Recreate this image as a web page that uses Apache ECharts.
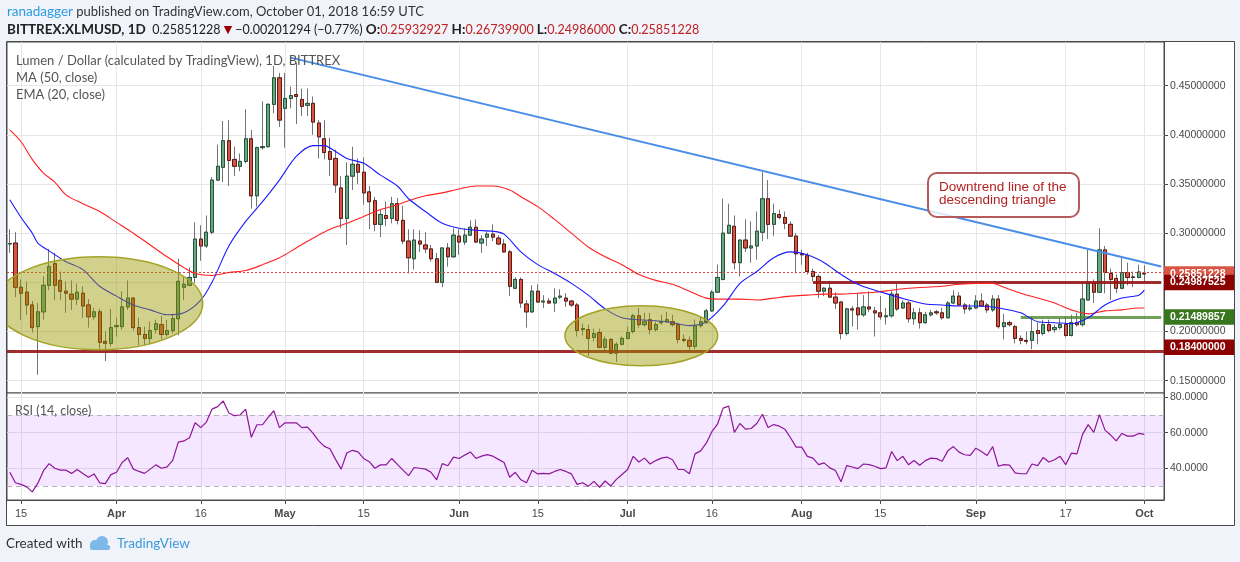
<!DOCTYPE html>
<html>
<head>
<meta charset="utf-8">
<script src="https://cdn.jsdelivr.net/npm/echarts@6/dist/echarts.min.js"></script>
<style>
  html, body { margin: 0; padding: 0; background: #f0f3fa; }
  #chart { width: 1240px; height: 562px; }
</style>
</head>
<body>
<div id="chart"></div>
<script>
// daily candles from 2018-03-13, each row [open, high, low, close]
var startDay = '2018-03-13'
var ohlc = [
  [0.2890, 0.304, 0.280, 0.2895], [0.290, 0.301, 0.235, 0.245], [0.245, 0.253, 0.212, 0.239], [0.240, 0.251, 0.217, 0.227],
  [0.227, 0.231, 0.199, 0.204], [0.205, 0.229, 0.156, 0.220], [0.220, 0.256, 0.212, 0.247], [0.247, 0.284, 0.242, 0.266],
  [0.269, 0.280, 0.232, 0.247], [0.252, 0.261, 0.232, 0.241], [0.241, 0.251, 0.219, 0.239], [0.238, 0.252, 0.222, 0.233],
  [0.233, 0.249, 0.227, 0.240], [0.239, 0.246, 0.214, 0.226], [0.227, 0.233, 0.204, 0.215], [0.215, 0.224, 0.212, 0.220],
  [0.220, 0.223, 0.179, 0.189], [0.190, 0.200, 0.170, 0.188], [0.188, 0.223, 0.185, 0.204], [0.205, 0.214, 0.195, 0.206],
  [0.205, 0.241, 0.202, 0.225], [0.225, 0.252, 0.222, 0.234], [0.234, 0.235, 0.201, 0.204], [0.204, 0.214, 0.186, 0.197],
  [0.197, 0.205, 0.186, 0.193], [0.193, 0.210, 0.188, 0.201], [0.202, 0.212, 0.198, 0.208], [0.207, 0.216, 0.192, 0.197],
  [0.197, 0.212, 0.195, 0.201], [0.201, 0.218, 0.198, 0.213], [0.213, 0.274, 0.196, 0.251], [0.245, 0.256, 0.232, 0.248],
  [0.247, 0.265, 0.246, 0.255], [0.255, 0.311, 0.249, 0.294], [0.294, 0.308, 0.272, 0.287], [0.287, 0.318, 0.285, 0.301],
  [0.301, 0.357, 0.299, 0.354], [0.354, 0.390, 0.353, 0.368], [0.367, 0.414, 0.352, 0.394], [0.394, 0.415, 0.348, 0.374],
  [0.375, 0.388, 0.358, 0.368], [0.368, 0.381, 0.363, 0.373], [0.373, 0.426, 0.371, 0.396], [0.396, 0.405, 0.325, 0.338],
  [0.338, 0.388, 0.327, 0.387], [0.387, 0.434, 0.385, 0.388], [0.388, 0.432, 0.387, 0.431], [0.431, 0.470, 0.422, 0.458],
  [0.458, 0.463, 0.408, 0.415], [0.427, 0.463, 0.387, 0.437], [0.437, 0.449, 0.427, 0.440], [0.441, 0.473, 0.411, 0.439],
  [0.436, 0.447, 0.419, 0.429], [0.430, 0.447, 0.419, 0.432], [0.432, 0.439, 0.400, 0.413], [0.412, 0.415, 0.376, 0.398],
  [0.396, 0.415, 0.375, 0.382], [0.383, 0.397, 0.358, 0.375], [0.376, 0.385, 0.341, 0.349], [0.346, 0.358, 0.305, 0.315],
  [0.315, 0.372, 0.288, 0.358], [0.358, 0.388, 0.344, 0.370], [0.370, 0.376, 0.350, 0.362], [0.362, 0.377, 0.329, 0.341],
  [0.342, 0.348, 0.304, 0.332], [0.333, 0.337, 0.302, 0.309], [0.309, 0.324, 0.296, 0.319], [0.318, 0.332, 0.307, 0.315],
  [0.315, 0.337, 0.310, 0.330], [0.330, 0.336, 0.309, 0.313], [0.313, 0.328, 0.289, 0.292], [0.292, 0.304, 0.259, 0.275],
  [0.274, 0.304, 0.263, 0.293], [0.292, 0.303, 0.281, 0.289], [0.288, 0.301, 0.280, 0.284], [0.284, 0.288, 0.271, 0.274],
  [0.274, 0.280, 0.250, 0.250], [0.250, 0.285, 0.245, 0.285], [0.285, 0.290, 0.266, 0.276], [0.276, 0.305, 0.275, 0.298],
  [0.297, 0.304, 0.278, 0.291], [0.291, 0.305, 0.288, 0.298], [0.298, 0.313, 0.297, 0.306], [0.306, 0.314, 0.290, 0.291],
  [0.290, 0.298, 0.280, 0.294], [0.296, 0.302, 0.287, 0.299], [0.299, 0.309, 0.292, 0.296], [0.295, 0.298, 0.288, 0.289],
  [0.289, 0.294, 0.280, 0.281], [0.281, 0.283, 0.236, 0.246], [0.244, 0.255, 0.243, 0.253], [0.253, 0.255, 0.224, 0.229],
  [0.228, 0.232, 0.204, 0.220], [0.220, 0.247, 0.219, 0.241], [0.241, 0.248, 0.229, 0.230], [0.230, 0.237, 0.224, 0.231],
  [0.231, 0.234, 0.228, 0.229], [0.229, 0.244, 0.220, 0.234], [0.235, 0.243, 0.233, 0.236], [0.234, 0.239, 0.225, 0.231],
  [0.231, 0.232, 0.225, 0.227], [0.227, 0.229, 0.195, 0.201], [0.202, 0.208, 0.196, 0.203], [0.202, 0.207, 0.175, 0.193],
  [0.194, 0.203, 0.190, 0.198], [0.199, 0.203, 0.183, 0.184], [0.184, 0.195, 0.180, 0.192], [0.192, 0.193, 0.177, 0.178],
  [0.178, 0.189, 0.169, 0.187], [0.187, 0.195, 0.186, 0.193], [0.193, 0.205, 0.192, 0.199], [0.200, 0.218, 0.198, 0.216],
  [0.216, 0.224, 0.204, 0.207], [0.207, 0.219, 0.205, 0.210], [0.212, 0.219, 0.197, 0.202], [0.202, 0.210, 0.200, 0.207],
  [0.209, 0.217, 0.207, 0.210], [0.210, 0.220, 0.209, 0.212], [0.210, 0.217, 0.205, 0.207], [0.207, 0.209, 0.188, 0.192],
  [0.192, 0.197, 0.189, 0.191], [0.191, 0.195, 0.179, 0.185], [0.185, 0.212, 0.182, 0.206], [0.206, 0.215, 0.204, 0.210],
  [0.209, 0.223, 0.208, 0.221], [0.221, 0.242, 0.220, 0.240], [0.240, 0.268, 0.240, 0.255], [0.253, 0.335, 0.252, 0.300],
  [0.300, 0.330, 0.299, 0.308], [0.307, 0.318, 0.263, 0.270], [0.270, 0.293, 0.256, 0.293], [0.293, 0.314, 0.281, 0.285],
  [0.285, 0.312, 0.270, 0.287], [0.287, 0.322, 0.273, 0.302], [0.301, 0.362, 0.292, 0.335], [0.335, 0.354, 0.294, 0.309],
  [0.309, 0.330, 0.297, 0.320], [0.319, 0.324, 0.314, 0.316], [0.316, 0.322, 0.304, 0.310], [0.309, 0.312, 0.296, 0.297],
  [0.297, 0.300, 0.259, 0.279], [0.279, 0.283, 0.268, 0.278], [0.277, 0.280, 0.258, 0.261], [0.261, 0.264, 0.251, 0.256],
  [0.256, 0.258, 0.234, 0.241], [0.241, 0.245, 0.236, 0.244], [0.244, 0.250, 0.234, 0.235], [0.235, 0.240, 0.223, 0.229],
  [0.230, 0.231, 0.192, 0.198], [0.198, 0.224, 0.196, 0.223], [0.223, 0.226, 0.205, 0.222], [0.224, 0.239, 0.202, 0.217],
  [0.217, 0.237, 0.215, 0.225], [0.225, 0.241, 0.220, 0.223], [0.221, 0.225, 0.195, 0.219], [0.219, 0.236, 0.212, 0.215],
  [0.215, 0.224, 0.207, 0.216], [0.216, 0.241, 0.214, 0.238], [0.238, 0.249, 0.221, 0.223], [0.224, 0.232, 0.223, 0.229],
  [0.229, 0.231, 0.209, 0.213], [0.213, 0.224, 0.207, 0.219], [0.219, 0.224, 0.203, 0.209], [0.209, 0.220, 0.208, 0.217],
  [0.217, 0.222, 0.215, 0.219], [0.220, 0.222, 0.217, 0.219], [0.219, 0.224, 0.212, 0.214], [0.214, 0.231, 0.213, 0.229],
  [0.229, 0.242, 0.228, 0.236], [0.236, 0.240, 0.226, 0.227], [0.227, 0.229, 0.218, 0.223], [0.223, 0.228, 0.221, 0.224],
  [0.224, 0.237, 0.223, 0.231], [0.231, 0.239, 0.225, 0.226], [0.227, 0.229, 0.219, 0.222], [0.222, 0.237, 0.220, 0.233],
  [0.233, 0.237, 0.203, 0.205], [0.205, 0.218, 0.192, 0.209], [0.209, 0.211, 0.205, 0.207], [0.205, 0.207, 0.188, 0.193],
  [0.193, 0.196, 0.187, 0.191], [0.191, 0.200, 0.187, 0.190], [0.191, 0.215, 0.182, 0.200], [0.201, 0.209, 0.187, 0.198],
  [0.198, 0.212, 0.196, 0.207], [0.207, 0.212, 0.199, 0.201], [0.202, 0.207, 0.199, 0.204], [0.204, 0.214, 0.202, 0.207],
  [0.207, 0.215, 0.194, 0.196], [0.196, 0.217, 0.195, 0.209], [0.209, 0.219, 0.205, 0.207], [0.207, 0.249, 0.205, 0.233],
  [0.232, 0.283, 0.232, 0.249], [0.249, 0.253, 0.229, 0.240], [0.240, 0.305, 0.240, 0.283], [0.283, 0.287, 0.239, 0.260],
  [0.259, 0.264, 0.232, 0.253], [0.254, 0.258, 0.239, 0.244], [0.244, 0.276, 0.243, 0.260], [0.260, 0.270, 0.247, 0.255],
  [0.2555, 0.261, 0.245, 0.2550], [0.255, 0.268, 0.254, 0.26052522], [0.25932927, 0.267399, 0.24986, 0.25851228]
]

// RSI (14, close), one value per candle
var rsi14 = [
  37.7, 31.8, 30.9, 29.5, 26.7, 31.6, 38.6, 42.6, 40.0, 38.9, 38.9, 37.1, 39.3, 37.1, 34.9, 36.8, 31.8, 31.3, 36.4, 37.7,
  43.2, 45.9, 39.5, 38.2, 37.1, 39.5, 41.9, 40.0, 40.8, 44.4, 54.7, 55.4, 57.2, 65.6, 62.9, 66.0, 73.3, 74.7, 77.9, 71.1,
  69.6, 70.0, 73.3, 57.4, 64.5, 64.5, 68.7, 72.4, 62.9, 65.6, 65.6, 65.6, 62.9, 63.2, 59.6, 55.4, 52.3, 51.0, 45.0, 39.5,
  48.6, 50.1, 49.2, 45.5, 43.7, 40.0, 41.9, 41.9, 45.5, 42.2, 38.9, 35.8, 40.4, 40.0, 39.5, 37.7, 33.5, 42.6, 41.4, 46.3,
  45.5, 47.4, 49.2, 45.5, 46.8, 47.7, 46.8, 45.0, 43.2, 34.9, 37.7, 33.5, 31.8, 38.9, 36.8, 37.1, 36.8, 38.2, 39.3, 38.2,
  36.8, 30.9, 31.8, 29.8, 32.6, 29.3, 32.8, 30.0, 33.7, 36.5, 39.3, 46.7, 43.5, 45.7, 42.4, 44.3, 45.7, 46.3, 44.8, 39.3,
  39.3, 36.9, 48.1, 49.8, 54.1, 60.6, 64.8, 73.9, 75.0, 60.2, 65.2, 62.0, 62.4, 65.2, 70.4, 63.0, 64.6, 63.7, 62.0, 57.2,
  51.9, 51.9, 46.7, 45.7, 42.0, 43.0, 40.2, 38.7, 32.4, 41.5, 40.7, 39.8, 42.4, 42.0, 41.1, 39.8, 40.2, 49.4, 44.3, 46.7,
  42.0, 44.4, 41.7, 44.3, 45.7, 45.4, 43.9, 49.8, 52.2, 49.1, 47.6, 47.2, 51.3, 49.4, 47.2, 52.2, 41.1, 42.0, 41.7, 37.4,
  36.9, 36.9, 42.4, 41.5, 46.1, 43.5, 44.8, 46.7, 42.0, 48.5, 48.1, 59.1, 64.6, 60.2, 70.2, 61.5, 58.7, 55.4, 59.6, 58.1,
  58.1, 59.6, 59.1
]

// indicator lines: [candle index, value]
var ema20 = [
  [0, 0.334], [2, 0.316], [4, 0.300], [5, 0.290], [7, 0.282], [10, 0.271], [13, 0.263], [16, 0.246], [19, 0.236],
  [22, 0.227], [25, 0.222], [28, 0.217], [31, 0.219], [34, 0.232], [36, 0.250], [39, 0.287], [42, 0.312], [45, 0.332],
  [48, 0.354], [51, 0.378], [54, 0.389], [56, 0.389], [58, 0.383], [60, 0.376], [63, 0.371], [66, 0.359], [69, 0.348],
  [71, 0.335], [74, 0.322], [77, 0.310], [80, 0.305], [83, 0.303], [86, 0.302], [88, 0.299], [91, 0.281], [94, 0.268],
  [97, 0.259], [100, 0.249], [103, 0.237], [106, 0.223], [109, 0.214], [112, 0.212], [115, 0.211], [118, 0.209],
  [121, 0.206], [124, 0.210], [127, 0.226], [130, 0.249], [133, 0.261], [136, 0.275], [139, 0.281], [142, 0.278],
  [145, 0.270], [148, 0.258], [151, 0.248], [154, 0.242], [157, 0.237], [160, 0.232], [163, 0.228], [166, 0.227],
  [169, 0.226], [172, 0.226], [175, 0.225], [177, 0.223], [180, 0.219], [183, 0.210], [186, 0.209], [189, 0.208],
  [192, 0.214], [195, 0.227], [198, 0.234], [201, 0.237], [202, 0.242]
]
var ma50 = [
  [0, 0.405], [2, 0.393], [4, 0.375], [6, 0.361], [8, 0.352], [10, 0.339], [13, 0.330], [16, 0.322], [19, 0.311],
  [22, 0.300], [25, 0.288], [28, 0.276], [31, 0.265], [33, 0.259], [36, 0.257], [39, 0.260], [42, 0.262], [45, 0.268],
  [48, 0.275], [51, 0.285], [54, 0.295], [57, 0.304], [60, 0.310], [63, 0.317], [66, 0.324], [69, 0.329], [71, 0.333],
  [74, 0.338], [77, 0.341], [80, 0.345], [83, 0.348], [86, 0.348], [89, 0.344], [91, 0.337], [94, 0.327], [97, 0.314],
  [100, 0.300], [103, 0.286], [106, 0.276], [109, 0.268], [112, 0.258], [115, 0.252], [118, 0.248], [121, 0.241],
  [124, 0.234], [127, 0.233], [130, 0.233], [133, 0.232], [136, 0.234], [139, 0.236], [142, 0.237], [145, 0.238],
  [148, 0.238], [151, 0.239], [154, 0.240], [157, 0.242], [160, 0.244], [163, 0.245], [166, 0.246], [169, 0.248],
  [172, 0.249], [175, 0.249], [177, 0.245], [180, 0.239], [183, 0.234], [186, 0.229], [189, 0.222], [192, 0.218],
  [195, 0.221], [198, 0.222], [201, 0.224], [202, 0.224]
]

var tickDates = ['2018-03-15', '2018-04-01', '2018-04-16', '2018-05-01', '2018-05-15', '2018-06-01', '2018-06-15',
  '2018-07-01', '2018-07-16', '2018-08-01', '2018-08-15', '2018-09-01', '2018-09-17', '2018-10-01']
var tickNames = ['15', 'Apr', '16', 'May', '15', 'Jun', '15', 'Jul', '16', 'Aug', '15', 'Sep', '17', 'Oct']
var priceTicks = [0.15, 0.20, 0.25, 0.30, 0.35, 0.40, 0.45]
var rsiTicks = [40, 60, 80]

// drawn levels and trend line
var lastPrice = 0.25851228
var resistance = 0.24987525
var breakout = 0.21489857
var support = 0.184
var trendFrom = [50, 0.4785]
var trendTo = [205, 0.2662]
var resistanceFrom = 143
var breakoutFrom = 180
// highlighted zones: [first index, last index, top price, bottom price]
var zones = [[-2.64, 34.35, 0.2761, 0.1815], [98.84, 126.03, 0.2263, 0.1652]]

var dates = []
var d0 = new Date(startDay + 'T00:00:00Z')
for (var i = 0; i < ohlc.length + 3; i++) {
  var d = new Date(d0.getTime() + i * 86400000)
  dates.push(d.toISOString().slice(0, 10))
}

function isTick(i, v) { return tickDates.indexOf(v) >= 0 }

var chart = echarts.init(document.getElementById('chart'))

var option = {
  animation: false,
  backgroundColor: '#f0f3fa',
  grid: [
    { left: 7, top: 42, width: 1157, height: 351, show: true, backgroundColor: '#fff', borderColor: '#4a4a4a', borderWidth: 1 },
    { left: 7, top: 393, width: 1157, height: 107, show: true, backgroundColor: '#fff', borderColor: '#4a4a4a', borderWidth: 1 }
  ],
  xAxis: [
    {
      type: 'category', gridIndex: 0, data: dates, boundaryGap: true,
      axisLine: { show: false }, axisTick: { show: false }, axisLabel: { show: false },
      splitLine: { show: true, interval: isTick, alignWithLabel: true, lineStyle: { color: '#e6e6e6' } }
    },
    {
      type: 'category', gridIndex: 1, data: dates, boundaryGap: true,
      axisLine: { show: true, lineStyle: { color: '#4a4a4a' } },
      axisTick: { show: true, interval: isTick, alignWithLabel: true, length: 4, lineStyle: { color: '#4a4a4a' } },
      axisLabel: {
        interval: isTick, margin: 8,
        formatter: function (v) {
          var n = tickNames[tickDates.indexOf(v)]
          return /^\d+$/.test(n) ? '{d|' + n + '}' : '{m|' + n + '}'
        },
        rich: {
          d: { fontSize: 11, color: '#4a4a4a', fontFamily: 'Liberation Sans' },
          m: { fontSize: 11, color: '#4a4a4a', fontWeight: 'bold', fontFamily: 'Liberation Sans' }
        }
      },
      splitLine: { show: true, interval: isTick, alignWithLabel: true, lineStyle: { color: '#e6e6e6' } }
    }
  ],
  yAxis: [
    {
      type: 'value', gridIndex: 0, position: 'right', min: 0.1375, max: 0.4944,
      axisLine: { show: true, lineStyle: { color: '#4a4a4a' } },
      axisTick: { show: true, length: 4, customValues: priceTicks, lineStyle: { color: '#4a4a4a' } },
      axisLabel: {
        customValues: priceTicks, margin: 6, color: '#4a4a4a', fontSize: 10.5, fontFamily: 'Liberation Sans',
        formatter: function (v) { return v.toFixed(8) }
      },
      splitLine: { show: true, lineStyle: { color: '#e6e6e6' } }
    },
    {
      type: 'value', gridIndex: 1, position: 'right', min: 22.1, max: 82.4,
      axisLine: { show: true, lineStyle: { color: '#4a4a4a' } },
      axisTick: { show: true, length: 4, customValues: rsiTicks, lineStyle: { color: '#4a4a4a' } },
      axisLabel: {
        customValues: rsiTicks, margin: 6, color: '#4a4a4a', fontSize: 10.5, fontFamily: 'Liberation Sans',
        formatter: function (v) { return v.toFixed(4) }
      },
      splitLine: { show: true, lineStyle: { color: '#e6e6e6' } }
    }
  ],
  series: [
    {
      // wicks
      type: 'candlestick', xAxisIndex: 0, yAxisIndex: 0, barWidth: '66%', z: 3,
      data: ohlc.map(function (r) { return [r[0], r[3], r[2], r[1]] }),
      itemStyle: { color: '#737375', color0: '#737375', borderColor: '#737375', borderColor0: '#737375', borderWidth: 1 }
    },
    {
      // bodies
      type: 'candlestick', xAxisIndex: 0, yAxisIndex: 0, barWidth: '66%', z: 4,
      data: ohlc.map(function (r) { return [r[0], r[3], Math.min(r[0], r[3]), Math.max(r[0], r[3])] }),
      itemStyle: { color: '#6ba583', color0: '#d75442', borderColor: '#225437', borderColor0: '#5b1a13', borderWidth: 1 },
      markLine: {
        silent: true, symbol: 'none', label: { show: false },
        data: [
          { yAxis: lastPrice, lineStyle: { color: '#d64541', width: 1, type: [2, 2] } },
          { yAxis: support, lineStyle: { color: '#961616', width: 3, type: 'solid', opacity: 0.9 } },
          [{ coord: [dates[resistanceFrom], resistance], lineStyle: { color: '#961616', width: 3, type: 'solid', opacity: 0.9 } },
            { coord: [dates[dates.length - 1], resistance] }],
          [{ coord: [dates[breakoutFrom], breakout], lineStyle: { color: '#4c8a2e', width: 3, type: 'solid', opacity: 0.8 } },
            { coord: [dates[dates.length - 1], breakout] }],
          [{ coord: [dates[trendFrom[0]], trendFrom[1]], lineStyle: { color: '#4a8de6', width: 2, type: 'solid' } },
            { coord: [dates[trendTo[0]], trendTo[1]] }]
        ]
      }
    },
    {
      name: 'MA (50, close)', type: 'line', xAxisIndex: 0, yAxisIndex: 0, data: ma50, smooth: 0.3,
      showSymbol: false, z: 5, lineStyle: { color: '#ff2020', width: 1.1 }
    },
    {
      name: 'EMA (20, close)', type: 'line', xAxisIndex: 0, yAxisIndex: 0, data: ema20, smooth: 0.3,
      showSymbol: false, z: 5, lineStyle: { color: '#1a1aff', width: 1.1 }
    },
    {
      name: 'RSI', type: 'line', xAxisIndex: 1, yAxisIndex: 1, data: rsi14, showSymbol: false, z: 5,
      lineStyle: { color: '#8e1599', width: 1.2 },
      markArea: { silent: true, itemStyle: { color: 'rgba(153,21,255,0.1)' }, data: [[{ yAxis: 30 }, { yAxis: 70 }]] },
      markLine: {
        silent: true, symbol: 'none', label: { show: false },
        lineStyle: { color: '#b8b0bd', type: [5, 4], width: 1 },
        data: [{ yAxis: 30 }, { yAxis: 70 }]
      }
    }
  ]
}
chart.setOption(option)

// overlays: header, legends, zones, note, axis price tags
function drawOverlays() {
  var base = chart.convertToPixel({ gridIndex: 0 }, [0, 0.3])
  var ten = chart.convertToPixel({ gridIndex: 0 }, [10, 0.3])
  var band = (ten[0] - base[0]) / 10
  function xAt(i) { return base[0] + i * band }
  function yAt(p) { return chart.convertToPixel({ yAxisIndex: 0 }, p) }

  var els = []
  els.push({
    type: 'rect', z: -10, silent: true,
    shape: { x: 6.5, y: 41.5, width: 1228, height: 484 },
    style: { fill: '#fff', stroke: '#4a4a4a', lineWidth: 1 }
  })

  zones.forEach(function (zn) {
    var x1 = xAt(zn[0]), x2 = xAt(zn[1]), y1 = yAt(zn[2]), y2 = yAt(zn[3])
    els.push({
      type: 'ellipse', z: 50, silent: true,
      shape: { cx: (x1 + x2) / 2, cy: (y1 + y2) / 2, rx: (x2 - x1) / 2, ry: (y2 - y1) / 2 },
      style: { fill: 'rgba(153,153,0,0.45)', stroke: '#a3a328', lineWidth: 1.5 }
    })
  })
  // cover the part of the left zone outside the pane
  els.push({ type: 'rect', z: 51, silent: true, shape: { x: 0, y: 41, width: 6.5, height: 360 }, style: { fill: '#f0f3fa' } })
  els.push({ type: 'line', z: 52, silent: true, shape: { x1: 6.5, y1: 41.5, x2: 6.5, y2: 525.5 }, style: { stroke: '#4a4a4a', lineWidth: 1 } })

  // note box
  els.push({
    type: 'rect', z: 60, silent: true,
    shape: { x: 928, y: 173, width: 151, height: 44, r: 9 },
    style: { fill: 'rgba(255,255,255,0.8)', stroke: '#b55a5a', lineWidth: 2 }
  })
  els.push({
    type: 'text', z: 61, silent: true, x: 939, y: 180.5,
    style: {
      text: 'Downtrend line of the\ndescending triangle', fill: '#b22222',
      font: '13.5px "Liberation Sans"', lineHeight: 13.5, verticalAlign: 'top'
    }
  })

  // header
  els.push({
    type: 'text', z: 70, silent: true, x: 7, y: 12,
    style: {
      text: '{a|ranadagger} published on TradingView.com, October 01, 2018 16:59 UTC',
      fill: '#333', font: '13px Lato', verticalAlign: 'middle',
      rich: { a: { fill: '#2e9be0', font: '13.5px Lato' } }
    }
  })
  els.push({
    type: 'text', z: 70, silent: true, x: 7, y: 30,
    style: {
      text: '{b|BITTREX:XLMUSD, 1D}  0.25851228 {t|\u25BC} \u22120.00201294 (\u22120.77%) {b|O:}{r|0.25932927} {b|H:}{r|0.26739900} {b|L:}{r|0.24986000} {b|C:}{r|0.25851228}',
      fill: '#222', font: '12.5px Lato', verticalAlign: 'middle',
      rich: {
        b: { fill: '#222', font: 'bold 13.5px Lato' },
        r: { fill: '#c0201e', font: '12.5px Lato' },
        t: { fill: '#9a0000', font: '11px "DejaVu Sans"' }
      }
    }
  })

  // pane legends
  var legends = [['Lumen / Dollar (calculated by TradingView), 1D, BITTREX', 61], ['MA (50, close)', 78], ['EMA (20, close)', 95]]
  legends.forEach(function (l) {
    els.push({
      type: 'text', z: 70, silent: true, x: 16, y: l[1],
      style: { text: l[0], fill: '#555', font: '13px Lato', verticalAlign: 'middle' }
    })
  })
  els.push({
    type: 'text', z: 70, silent: true, x: 15, y: 411,
    style: { text: 'RSI (14, close)', fill: '#555', font: '12.5px Lato', verticalAlign: 'middle' }
  })

  // price tags on the axis
  var tags = [[lastPrice, '#d95544'], [resistance, '#8b0000'], [breakout, '#38761d'], [support, '#8b0000']]
  tags.forEach(function (t) {
    var y = yAt(t[0])
    els.push({ type: 'rect', z: 80, silent: true, shape: { x: 1164, y: y - 7.7, width: 70, height: 15.5 }, style: { fill: t[1] } })
    els.push({
      type: 'text', z: 81, silent: true, x: 1170, y: y,
      style: { text: t[0].toFixed(8), fill: '#fff', font: 'bold 10.5px "Liberation Sans"', verticalAlign: 'middle' }
    })
  })

  // footer
  els.push({
    type: 'text', z: 70, silent: true, x: 6, y: 544,
    style: { text: 'Created with', fill: '#333', font: '13.5px Lato', verticalAlign: 'middle' }
  })
  els.push({ type: 'circle', z: 70, silent: true, shape: { cx: 95, cy: 545, r: 5 }, style: { fill: '#7cb9e8' } })
  els.push({ type: 'circle', z: 70, silent: true, shape: { cx: 102, cy: 542, r: 6 }, style: { fill: '#7cb9e8' } })
  els.push({ type: 'rect', z: 70, silent: true, shape: { x: 90, y: 545, width: 20, height: 5, r: 2 }, style: { fill: '#7cb9e8' } })
  els.push({
    type: 'text', z: 70, silent: true, x: 117, y: 544,
    style: { text: 'TradingView', fill: '#3d9ad9', font: '13.5px Lato', verticalAlign: 'middle' }
  })

  chart.setOption({ graphic: { elements: els } })
}
drawOverlays()
</script>
</body>
</html>
